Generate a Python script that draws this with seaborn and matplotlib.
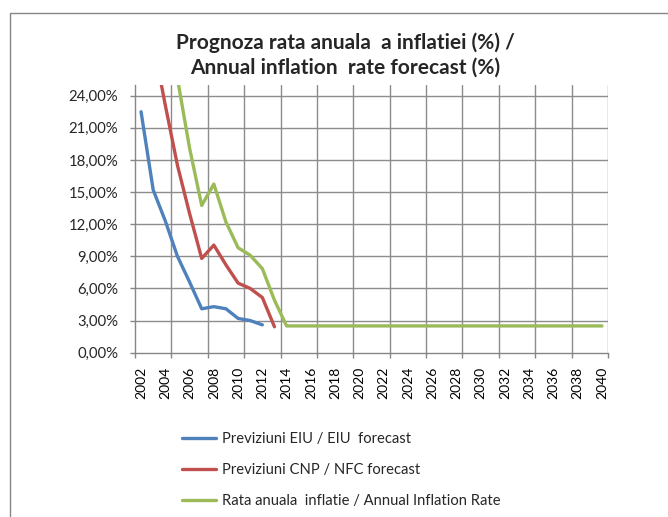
import matplotlib
matplotlib.use("Agg")
import matplotlib.pyplot as plt
import matplotlib.ticker as mticker
from matplotlib.patches import Rectangle
import seaborn as sns
import pandas as pd

# ---- data ----
eiu_years = [2002, 2003, 2004, 2005, 2006, 2007, 2008, 2009, 2010, 2011, 2012]
eiu_values = [22.5, 15.2, 12.3, 9.0, 6.6, 4.1, 4.3, 4.1, 3.2, 3.0, 2.6]

cnp_years = [2003, 2004, 2005, 2006, 2007, 2008, 2009, 2010, 2011, 2012, 2013]
cnp_values = [29.0, 23.1, 17.5, 13.0, 8.8, 10.05, 8.2, 6.5, 6.0, 5.15, 2.42]

rate_years = [2005, 2006, 2007, 2008, 2009, 2010, 2011, 2012, 2013, 2014,
              2015, 2016, 2017, 2018, 2019, 2020, 2021, 2022, 2023, 2024,
              2025, 2026, 2027, 2028, 2029, 2030, 2031, 2032, 2033, 2034,
              2035, 2036, 2037, 2038, 2039, 2040]
rate_values = [25.6, 19.1, 13.75, 15.75, 12.2, 9.8, 9.1, 7.85, 4.9, 2.5,
               2.5, 2.5, 2.5, 2.5, 2.5, 2.5, 2.5, 2.5, 2.5, 2.5,
               2.5, 2.5, 2.5, 2.5, 2.5, 2.5, 2.5, 2.5, 2.5, 2.5,
               2.5, 2.5, 2.5, 2.5, 2.5, 2.5]

series_names = ["Previziuni EIU / EIU  forecast",
                "Previziuni CNP / NFC forecast",
                "Rata anuala  inflatie / Annual Inflation Rate"]
series_colors = ["#4F81BD", "#C0504D", "#9BBB59"]

x_tick_labels = ["2002", "2004", "2006", "2008", "2010", "2012", "2014", "2016",
                 "2018", "2020", "2022", "2024", "2026", "2028", "2030", "2032",
                 "2034", "2036", "2038", "2040"]
y_ticks = [0, 3, 6, 9, 12, 15, 18, 21, 24]
y_tick_labels = ["0,00%", "3,00%", "6,00%", "9,00%", "12,00%", "15,00%",
                 "18,00%", "21,00%", "24,00%"]

title_text = "Prognoza rata anuala  a inflatiei (%) /\nAnnual inflation  rate forecast (%)"

# ---- build table ----
df = pd.concat([
    pd.DataFrame({"year": eiu_years, "value": eiu_values, "series": series_names[0]}),
    pd.DataFrame({"year": cnp_years, "value": cnp_values, "series": series_names[1]}),
    pd.DataFrame({"year": rate_years, "value": rate_values, "series": series_names[2]}),
], ignore_index=True)

sns.set_style("white")
plt.rcParams["font.family"] = ["Lato", "DejaVu Sans"]

W, H = 668, 517
fig = plt.figure(figsize=(W / 100, H / 100), dpi=100)
ax = fig.add_axes([135 / W, 1 - 352.7 / H, (608 - 135) / W, (352.7 - 85) / H])

grid_c = "#8C8C8C"
first_year, last_year = 2002, 2040
ax.set_xlim(first_year - 0.5, last_year + 0.5)
ax.set_ylim(0, 25)

# grid lines (behind data)
boundaries = [first_year - 0.5 + 3 * k for k in range(14)]
for b in boundaries[1:]:
    ax.axvline(b, color=grid_c, lw=1.0, zorder=0)
for yv in y_ticks[1:]:
    ax.axhline(yv, color=grid_c, lw=1.0, zorder=0)

sns.lineplot(data=df, x="year", y="value", hue="series",
             palette=dict(zip(series_names, series_colors)),
             linewidth=2.4, ax=ax, legend=False, zorder=3)

for s in ["top", "right"]:
    ax.spines[s].set_visible(False)
for s in ["left", "bottom"]:
    ax.spines[s].set_color("#868686")
    ax.spines[s].set_linewidth(1.0)

ax.set_xlabel("")
ax.set_ylabel("")

ax.xaxis.set_major_locator(mticker.FixedLocator(boundaries))
ax.xaxis.set_major_formatter(mticker.NullFormatter())
label_years = [int(t) for t in x_tick_labels]
ax.xaxis.set_minor_locator(mticker.FixedLocator(label_years))
ax.xaxis.set_minor_formatter(mticker.FixedFormatter(x_tick_labels))
ax.tick_params(axis="x", which="major", direction="out", length=3.5, width=1.0,
               color="#868686", bottom=True)
ax.tick_params(axis="x", which="minor", length=0, pad=10, labelsize=10,
               labelrotation=90, labelcolor="#000000", bottom=True)

ax.yaxis.set_major_locator(mticker.FixedLocator(y_ticks))
ax.yaxis.set_major_formatter(mticker.FixedFormatter(y_tick_labels))
ax.tick_params(axis="y", which="major", direction="out", length=3.5, width=1.0,
               color="#868686", pad=8.5, labelsize=10.7, left=True)

# title
fig.text(0.517, 1 - 55 / H, title_text, ha="center", va="center",
         fontsize=15, fontweight="bold", linespacing=1.25)

# legend
handles = [plt.Line2D([], [], color=c, lw=2.4) for c in series_colors]
fig.legend(handles, series_names, loc="upper left",
           bbox_to_anchor=(182 / W, 1 - 432 / H), frameon=False,
           fontsize=10.6, handlelength=2.3, handletextpad=0.4,
           labelspacing=1.15, borderpad=0, borderaxespad=0)

# chart border
fig.patches.append(Rectangle((9.5 / W, -0.2), 1.5, (H - 12.5) / H + 0.2,
                             transform=fig.transFigure, fill=False,
                             edgecolor="#868686", lw=1.0))

fig.savefig("out.png", dpi=100)
